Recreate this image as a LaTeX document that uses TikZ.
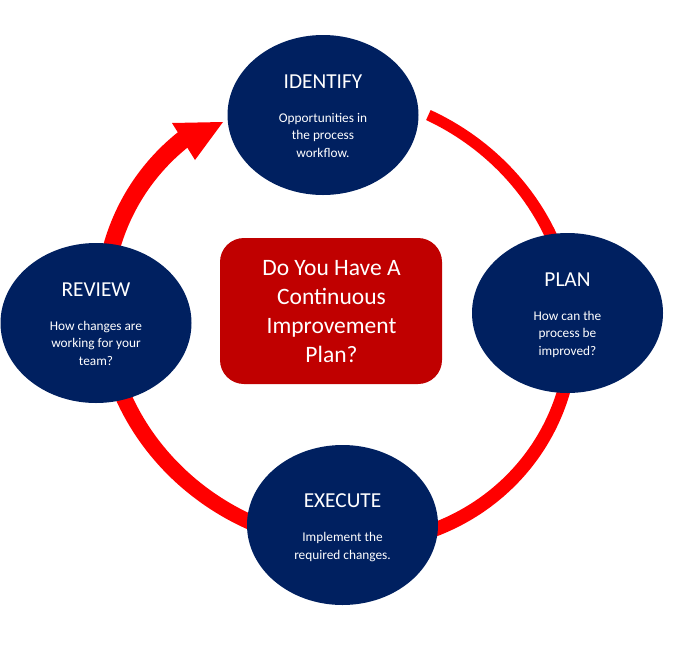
\documentclass[tikz,border=0pt]{standalone}
\usepackage{fontspec}
\setmainfont{Carlito}
\usetikzlibrary{shapes.geometric}
\definecolor{navy}{HTML}{002060}
\definecolor{boxred}{HTML}{C00000}
\definecolor{ringred}{HTML}{FF0000}
\begin{document}
\begin{tikzpicture}[x=1pt,y=-1pt,
  declare function={ringr(\t)=230+8*cos(2*\t-300); ringw(\t)=11+7*(66-\t)/295;},
  stage/.style={ellipse, fill=navy, minimum width=191pt, minimum height=160pt, inner sep=0pt},
  stagetitle/.style={text=white, font=\fontsize{21.3}{25}\selectfont, anchor=base, inner sep=0pt},
  stagebody/.style={text=white, font=\fontsize{13.3}{17.6}\selectfont, align=center, anchor=base, inner sep=0pt},
  question/.style={rectangle, rounded corners=24pt, fill=boxred, minimum width=222pt, minimum height=146pt, inner sep=0pt},
  questiontext/.style={text=white, font=\fontsize{23.5}{29.3}\selectfont, align=center, anchor=base, inner sep=0pt}]
\useasboundingbox (0,0) rectangle (680,654);
% cycle ring (tapering)
\fill[ringred] plot[domain=66:-230, samples=150, smooth]
   ({338+(ringr(\x)+0.5*ringw(\x))*cos(\x)},{318-(ringr(\x)+0.5*ringw(\x))*sin(\x)})
   -- plot[domain=-230:66, samples=150, smooth]
   ({338+(ringr(\x)-0.5*ringw(\x))*cos(\x)},{318-(ringr(\x)-0.5*ringw(\x))*sin(\x)}) -- cycle;
\coordinate (tip) at (223,122);
\coordinate (barbA) at (172,123);
\coordinate (barbB) at (195,160);
\fill[ringred] (barbA) -- (tip) -- (barbB) -- cycle;
% stages
\node[stage] (identify) at (323,115) {};
\node[stage] (plan) at (567.5,313) {};
\node[stage] (execute) at (342.5,525) {};
\node[stage] (review) at (96,323) {};
\node[question] (q) at (331,311) {};
\node[stagetitle] (identifyT) at (323,88) {IDENTIFY};
\node[stagebody] (identifyB) at (323,157.2) {Opportunities in\\the process\\workflow.};
\node[stagetitle] (planT) at (567.5,286) {PLAN};
\node[stagebody] (planB) at (567.5,355.2) {How can the\\process be\\improved?};
\node[stagetitle] (executeT) at (342.5,507) {EXECUTE};
\node[stagebody] (executeB) at (342.5,559.1) {Implement the\\required changes.};
\node[stagetitle] (reviewT) at (96,296) {REVIEW};
\node[stagebody] (reviewB) at (96,365.2) {How changes are\\working for your\\team?};
\node[questiontext] (qT) at (331.5,362.9) {Do You Have A\\Continuous\\Improvement\\Plan?};
\end{tikzpicture}
\end{document}
